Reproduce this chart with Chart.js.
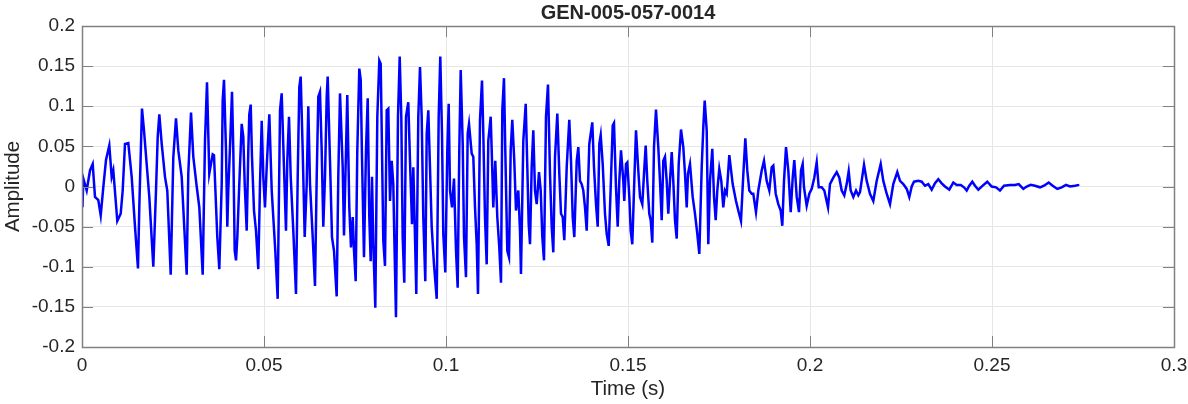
<!DOCTYPE html>
<html>
<head>
<meta charset="utf-8">
<script src="https://cdn.jsdelivr.net/npm/chart.js@4"></script>
<style>
  body { margin: 0; background: #fff; }
  #wrap { width: 1188px; height: 404px; position: relative; }
</style>
</head>
<body>
<div id="wrap"><canvas id="wave"></canvas></div>
<script>
const chartTitle = 'GEN-005-057-0014';
const xLabel = 'Time (s)';
const yLabel = 'Amplitude';

const xTicks = [0, 0.05, 0.1, 0.15, 0.2, 0.25, 0.3];
const xTickLabels = ['0', '0.05', '0.1', '0.15', '0.2', '0.25', '0.3'];
const yTicks = [-0.2, -0.15, -0.1, -0.05, 0, 0.05, 0.1, 0.15, 0.2];
const yTickLabels = ['-0.2', '-0.15', '-0.1', '-0.05', '0', '0.05', '0.1', '0.15', '0.2'];

// peaks/troughs
const timeS = [
  0.00000, 0.00014, 0.00036, 0.00129, 0.00220, 0.00294, 0.00357, 0.00448, 0.00514, 0.00585,
  0.00659, 0.00750, 0.00816, 0.00860, 0.00970, 0.01063, 0.01118, 0.01181, 0.01272, 0.01365,
  0.01456, 0.01538, 0.01574, 0.01648, 0.01703, 0.01777, 0.01849, 0.01959, 0.02033, 0.02080,
  0.02124, 0.02190, 0.02280, 0.02343, 0.02437, 0.02508, 0.02582, 0.02646, 0.02739, 0.02876,
  0.02920, 0.02995, 0.03058, 0.03151, 0.03223, 0.03316, 0.03379, 0.03434, 0.03497, 0.03591,
  0.03626, 0.03717, 0.03772, 0.03838, 0.03865, 0.03901, 0.03956, 0.03992, 0.04019, 0.04066,
  0.04121, 0.04157, 0.04195, 0.04231, 0.04267, 0.04321, 0.04387, 0.04431, 0.04470, 0.04525,
  0.04569, 0.04596, 0.04635, 0.04670, 0.04725, 0.04780, 0.04843, 0.04890, 0.04937, 0.04981,
  0.05027, 0.05074, 0.05146, 0.05212, 0.05255, 0.05310, 0.05376, 0.05440, 0.05486, 0.05549,
  0.05604, 0.05640, 0.05687, 0.05734, 0.05805, 0.05879, 0.05926, 0.05970, 0.06008, 0.06063,
  0.06118, 0.06173, 0.06217, 0.06264, 0.06338, 0.06401, 0.06448, 0.06492, 0.06538, 0.06585,
  0.06629, 0.06676, 0.06723, 0.06750, 0.06813, 0.06868, 0.06923, 0.06997, 0.07041, 0.07088,
  0.07162, 0.07198, 0.07253, 0.07288, 0.07343, 0.07390, 0.07437, 0.07473, 0.07519, 0.07563,
  0.07618, 0.07657, 0.07692, 0.07747, 0.07802, 0.07849, 0.07893, 0.07931, 0.07967, 0.08003,
  0.08058, 0.08113, 0.08168, 0.08206, 0.08242, 0.08277, 0.08324, 0.08371, 0.08415, 0.08462,
  0.08508, 0.08552, 0.08580, 0.08626, 0.08681, 0.08728, 0.08772, 0.08810, 0.08854, 0.08901,
  0.08964, 0.09011, 0.09066, 0.09102, 0.09140, 0.09184, 0.09239, 0.09286, 0.09332, 0.09376,
  0.09431, 0.09470, 0.09514, 0.09560, 0.09607, 0.09670, 0.09745, 0.09799, 0.09843, 0.09890,
  0.09926, 0.09981, 0.10036, 0.10074, 0.10110, 0.10165, 0.10220, 0.10275, 0.10321, 0.10365,
  0.10404, 0.10459, 0.10495, 0.10549, 0.10596, 0.10632, 0.10706, 0.10750, 0.10797, 0.10843,
  0.10879, 0.10934, 0.10989, 0.11025, 0.11071, 0.11118, 0.11162, 0.11228, 0.11264, 0.11299,
  0.11354, 0.11409, 0.11464, 0.11511, 0.11547, 0.11593, 0.11629, 0.11684, 0.11731, 0.11777,
  0.11821, 0.11876, 0.11923, 0.11986, 0.12033, 0.12060, 0.12124, 0.12190, 0.12234, 0.12272,
  0.12308, 0.12354, 0.12398, 0.12445, 0.12492, 0.12555, 0.12602, 0.12646, 0.12692, 0.12747,
  0.12802, 0.12857, 0.12904, 0.12948, 0.12995, 0.13058, 0.13113, 0.13159, 0.13206, 0.13250,
  0.13316, 0.13387, 0.13434, 0.13481, 0.13525, 0.13591, 0.13635, 0.13681, 0.13728, 0.13772,
  0.13819, 0.13865, 0.13937, 0.14019, 0.14066, 0.14121, 0.14168, 0.14212, 0.14250, 0.14305,
  0.14368, 0.14415, 0.14470, 0.14525, 0.14580, 0.14615, 0.14670, 0.14717, 0.14761, 0.14808,
  0.14871, 0.14898, 0.14945, 0.14981, 0.15036, 0.15074, 0.15118, 0.15173, 0.15220, 0.15283,
  0.15330, 0.15393, 0.15440, 0.15486, 0.15530, 0.15585, 0.15624, 0.15668, 0.15714, 0.15769,
  0.15832, 0.15879, 0.15926, 0.15970, 0.16016, 0.16063, 0.16107, 0.16154, 0.16201, 0.16244,
  0.16291, 0.16338, 0.16393, 0.16456, 0.16519, 0.16566, 0.16613, 0.16648, 0.16703, 0.16777,
  0.16841, 0.16904, 0.16959, 0.17025, 0.17069, 0.17107, 0.17162, 0.17206, 0.17253, 0.17316,
  0.17363, 0.17409, 0.17453, 0.17508, 0.17563, 0.17618, 0.17665, 0.17712, 0.17783, 0.17876,
  0.17967, 0.18030, 0.18104, 0.18168, 0.18223, 0.18277, 0.18332, 0.18398, 0.18442, 0.18516,
  0.18580, 0.18673, 0.18736, 0.18810, 0.18882, 0.18948, 0.18992, 0.19058, 0.19129, 0.19195,
  0.19239, 0.19286, 0.19341, 0.19404, 0.19470, 0.19525, 0.19569, 0.19635, 0.19698, 0.19753,
  0.19799, 0.19835, 0.19909, 0.19981, 0.20047, 0.20118, 0.20184, 0.20239, 0.20321, 0.20393,
  0.20495, 0.20549, 0.20640, 0.20734, 0.20805, 0.20871, 0.20942, 0.21008, 0.21063, 0.21118,
  0.21190, 0.21264, 0.21327, 0.21374, 0.21484, 0.21558, 0.21648, 0.21739, 0.21832, 0.21942,
  0.22014, 0.22107, 0.22198, 0.22288, 0.22398, 0.22473, 0.22563, 0.22657, 0.22728, 0.22794,
  0.22857, 0.22975, 0.23069, 0.23159, 0.23250, 0.23343, 0.23434, 0.23525, 0.23618, 0.23709,
  0.23827, 0.23937, 0.24030, 0.24140, 0.24231, 0.24305, 0.24376, 0.24459, 0.24533, 0.24624,
  0.24745, 0.24871, 0.24992, 0.25110, 0.25220, 0.25330, 0.25495, 0.25632, 0.25734, 0.25860,
  0.25953, 0.26063, 0.26181, 0.26319, 0.26429, 0.26558, 0.26668, 0.26794, 0.26915, 0.27033,
  0.27143, 0.27280, 0.27398
];

const amplitude = [
  -0.010, -0.026, 0.010, -0.005, 0.020, 0.028, -0.013, -0.017, -0.036, -0.001,
  0.033, 0.051, 0.012, 0.020, -0.043, -0.034, -0.005, 0.053, 0.054, 0.012,
  -0.050, -0.102, -0.026, 0.097, 0.070, 0.028, -0.013, -0.100, -0.005, 0.062,
  0.090, 0.053, 0.012, -0.005, -0.110, 0.036, 0.085, 0.045, 0.012, -0.110,
  0.016, 0.092, 0.037, 0.000, -0.026, -0.110, 0.057, 0.130, 0.016, 0.040,
  0.039, -0.063, -0.103, 0.003, 0.107, 0.133, 0.045, -0.050, -0.005, 0.049,
  0.118, 0.045, -0.080, -0.092, -0.063, 0.003, 0.078, 0.062, 0.003, -0.055,
  0.045, 0.090, 0.102, 0.037, -0.030, -0.055, -0.103, 0.003, 0.082, 0.012,
  -0.026, 0.024, 0.090, -0.005, -0.038, -0.080, -0.140, 0.095, 0.116, 0.024,
  -0.055, 0.032, 0.087, 0.012, -0.055, -0.134, 0.012, 0.124, 0.137, 0.045,
  -0.063, 0.003, 0.100, 0.003, -0.063, -0.124, 0.012, 0.112, 0.118, 0.045,
  -0.050, 0.012, 0.112, 0.137, 0.032, -0.063, -0.080, -0.137, 0.012, 0.116,
  0.024, -0.061, 0.045, 0.114, -0.026, -0.076, -0.038, -0.080, -0.118, 0.045,
  0.147, 0.133, 0.037, -0.088, 0.045, 0.110, -0.038, -0.093, 0.012, -0.072,
  -0.151, 0.087, 0.157, 0.153, 0.045, -0.067, -0.099, 0.095, 0.097, -0.018,
  0.032, 0.003, -0.063, -0.163, 0.087, 0.162, 0.087, -0.063, -0.120, 0.087,
  0.105, 0.032, -0.047, 0.024, -0.047, -0.134, 0.087, 0.149, 0.087, -0.038,
  -0.118, 0.066, 0.095, 0.024, -0.050, -0.097, -0.140, 0.087, 0.162, 0.066,
  -0.059, -0.107, 0.045, 0.103, -0.005, -0.026, 0.010, -0.080, -0.126, 0.045,
  0.145, 0.053, -0.063, -0.113, 0.066, 0.078, 0.041, 0.037, -0.026, -0.072,
  -0.134, 0.083, 0.132, 0.066, -0.038, -0.097, 0.057, 0.087, 0.032, -0.026,
  0.032, -0.038, -0.076, -0.120, 0.095, 0.135, 0.045, -0.080, -0.088, 0.045,
  0.083, 0.032, -0.030, -0.005, -0.055, -0.109, 0.057, 0.103, 0.024, -0.047,
  -0.072, 0.024, 0.070, -0.005, -0.022, 0.018, -0.005, -0.063, -0.092, 0.087,
  0.127, 0.016, -0.050, -0.082, 0.037, 0.091, 0.016, -0.034, -0.038, -0.067,
  0.024, 0.083, 0.032, -0.038, -0.063, 0.032, 0.049, 0.007, 0.003, -0.005,
  -0.026, -0.055, 0.053, 0.080, 0.024, -0.022, -0.050, 0.053, 0.064, 0.028,
  -0.034, -0.059, -0.074, -0.001, 0.076, 0.079, -0.001, -0.050, 0.007, 0.045,
  0.007, -0.018, 0.028, 0.030, -0.013, -0.055, -0.072, 0.007, 0.070, 0.020,
  -0.013, -0.022, 0.016, 0.051, 0.007, -0.034, -0.042, -0.070, 0.049, 0.096,
  0.049, 0.007, -0.042, 0.032, 0.037, 0.007, -0.034, 0.007, 0.043, 0.007,
  -0.042, -0.065, 0.028, 0.071, 0.049, 0.016, -0.026, 0.016, 0.028, -0.013,
  -0.034, -0.059, -0.084, 0.024, 0.074, 0.107, 0.070, -0.072, 0.007, 0.047,
  -0.013, -0.042, -0.005, 0.022, 0.007, -0.026, -0.005, -0.009, 0.039, 0.003,
  -0.018, -0.030, -0.043, 0.015, 0.060, 0.020, -0.005, -0.009, -0.009, -0.032,
  -0.005, 0.020, 0.032, 0.007, -0.005, 0.024, 0.026, -0.009, -0.022, -0.030,
  -0.049, 0.007, 0.049, 0.020, -0.032, 0.011, 0.033, -0.013, -0.032, 0.020,
  0.028, -0.001, -0.024, -0.009, -0.003, 0.011, 0.030, -0.001, -0.001, -0.005,
  -0.026, 0.003, 0.011, 0.018, 0.011, -0.005, -0.011, 0.003, 0.019, -0.005,
  -0.013, -0.005, -0.011, -0.007, 0.027, 0.007, -0.009, -0.018, 0.007, 0.028,
  0.007, -0.009, -0.022, 0.003, 0.018, 0.007, 0.003, -0.003, -0.013, 0.000,
  0.006, 0.007, 0.006, 0.001, 0.003, -0.004, 0.004, 0.009, 0.004, 0.000,
  -0.004, 0.005, 0.002, 0.002, -0.001, -0.005, 0.001, 0.006, 0.001, -0.004,
  0.001, 0.006, 0.000, -0.001, -0.005, 0.001, 0.002, 0.002, 0.003, -0.003,
  0.000, 0.002, 0.001, -0.001, 0.001, 0.005, 0.001, -0.003, -0.001, 0.002,
  0.000, 0.001, 0.002
];

const axisColor = '#808080';
const textColor = '#262626';
const fontFamily = '"Liberation Sans", Arial, Helvetica, sans-serif';

// MATLAB-like box, inward ticks and labels
const matlabAxes = {
    id: 'matlabAxes',
    afterDatasetsDraw(chart) {
        const { ctx, chartArea: a, scales } = chart;
        ctx.save();
        ctx.strokeStyle = axisColor;
        ctx.lineWidth = 1;
        ctx.beginPath();
        xTicks.forEach(v => {
            const px = Math.round(scales.x.getPixelForValue(v)) + 0.5;
            ctx.moveTo(px, a.bottom); ctx.lineTo(px, a.bottom - 11);
            ctx.moveTo(px, a.top); ctx.lineTo(px, a.top + 11);
        });
        yTicks.forEach(v => {
            const py = Math.round(scales.y.getPixelForValue(v)) + 0.5;
            ctx.moveTo(a.left, py); ctx.lineTo(a.left + 11, py);
            ctx.moveTo(a.right, py); ctx.lineTo(a.right - 11, py);
        });
        ctx.stroke();
        ctx.lineWidth = 1.5;
        ctx.strokeRect(Math.round(a.left) + 0.5, Math.round(a.top) + 0.5,
            Math.round(a.right - a.left), Math.round(a.bottom - a.top));

        ctx.fillStyle = textColor;
        ctx.textAlign = 'center';
        ctx.textBaseline = 'middle';
        const cx = (a.left + a.right) / 2;
        ctx.font = 'bold 20px ' + fontFamily;
        ctx.fillText(chartTitle, cx, a.top - 13);
        ctx.font = '20.5px ' + fontFamily;
        ctx.fillText(xLabel, cx, a.bottom + 42);
        ctx.translate(13, (a.top + a.bottom) / 2);
        ctx.rotate(-Math.PI / 2);
        ctx.fillText(yLabel, 0, 0);
        ctx.restore();
    }
};

const points = timeS.map((t, i) => ({ x: t, y: amplitude[i] }));

new Chart(document.getElementById('wave'), {
    type: 'line',
    data: {
        datasets: [{
            data: points,
            borderColor: '#0000ff',
            borderWidth: 2.5,
            pointRadius: 0,
            tension: 0,
            fill: false
        }]
    },
    options: {
        responsive: true,
        maintainAspectRatio: false,
        animation: false,
        layout: { padding: { top: 26, right: 14, left: 0, bottom: 0 } },
        plugins: {
            legend: { display: false },
            tooltip: { enabled: false }
        },
        scales: {
            x: {
                type: 'linear',
                min: 0,
                max: 0.3,
                afterBuildTicks: s => { s.ticks = xTicks.map(v => ({ value: v })); },
                afterFit: s => { s.height = 57; s.paddingLeft = 0; s.paddingRight = 0; },
                ticks: {
                    callback: (v) => xTickLabels[xTicks.indexOf(v)],
                    color: textColor,
                    font: { size: 19, family: fontFamily },
                    padding: 7,
                    maxRotation: 0
                },
                grid: { color: '#e6e6e6', drawTicks: false },
                border: { display: false }
            },
            y: {
                min: -0.2,
                max: 0.2,
                afterBuildTicks: s => { s.ticks = yTicks.map(v => ({ value: v })); },
                afterFit: s => { s.width = 82; s.paddingTop = 0; s.paddingBottom = 0; },
                ticks: {
                    callback: (v) => yTickLabels[yTicks.indexOf(v)],
                    color: textColor,
                    font: { size: 19, family: fontFamily },
                    padding: 7
                },
                grid: { color: '#e6e6e6', drawTicks: false },
                border: { display: false }
            }
        }
    },
    plugins: [matlabAxes]
});
</script>
</body>
</html>
